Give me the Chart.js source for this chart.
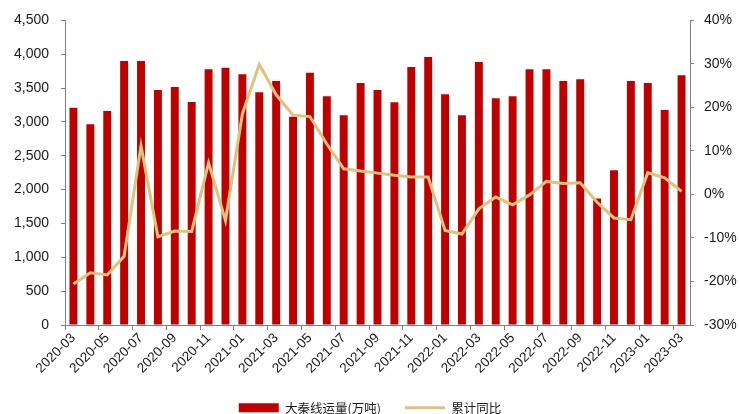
<!DOCTYPE html>
<html>
<head>
<meta charset="utf-8">
<script src="https://cdn.jsdelivr.net/npm/chart.js@4.4.1/dist/chart.umd.min.js"></script>
<style>
  html, body { margin: 0; padding: 0; background: #fff; }
  #wrap { width: 740px; height: 414px; }
</style>
</head>
<body>
<div id="wrap"><canvas id="chart" width="740" height="414"></canvas></div>
<script>
const months = [
  '2020-03', '2020-04', '2020-05', '2020-06', '2020-07', '2020-08', '2020-09', '2020-10',
  '2020-11', '2020-12', '2021-01', '2021-02', '2021-03', '2021-04', '2021-05', '2021-06',
  '2021-07', '2021-08', '2021-09', '2021-10', '2021-11', '2021-12', '2022-01', '2022-02',
  '2022-03', '2022-04', '2022-05', '2022-06', '2022-07', '2022-08', '2022-09', '2022-10',
  '2022-11', '2022-12', '2023-01', '2023-02', '2023-03'
];

// 大秦线运量(万吨)
const volume = [
  3210, 2965, 3160, 3900, 3900, 3470, 3515, 3295,
  3780, 3800, 3705, 3440, 3605, 3075, 3725, 3380,
  3100, 3575, 3470, 3290, 3810, 3960, 3410, 3100,
  3885, 3350, 3380, 3780, 3780, 3605, 3630, 1870,
  2285, 3605, 3575, 3175, 3690
];

// 累计同比 (%)
const yoy = [
  -20.6, -18.0, -18.5, -14.2, 11.2, -9.7, -8.4, -8.5,
  7.3, -6.0, 18.5, 29.9, 22.9, 18.2, 17.9, 11.6,
  5.9, 5.4, 4.9, 4.4, 4.0, 4.0, -8.3, -9.1,
  -3.3, -0.6, -2.4, -0.1, 3.0, 2.5, 2.7, -1.8,
  -5.4, -5.8, 5.0, 3.8, 0.7
];

const leftTicks = [0, 4500, 500];
const rightTicks = [-30, 40, 10];

const axisColor = '#808080';
const textColor = '#1a1a1a';
const tickFont = { family: 'Liberation Sans, Arial, sans-serif', size: 14 };

new Chart(document.getElementById('chart'), {
  data: {
    labels: months,
    datasets: [
      {
        type: 'line',
        label: '累计同比',
        data: yoy,
        yAxisID: 'y1',
        borderColor: '#dfc27c',
        backgroundColor: '#dfc27c',
        borderWidth: 3,
        pointRadius: 0,
        tension: 0,
        pointStyle: 'line',
        order: 0
      },
      {
        type: 'bar',
        label: '大秦线运量(万吨)',
        data: volume,
        yAxisID: 'y',
        backgroundColor: '#c00000',
        barPercentage: 0.47,
        categoryPercentage: 1,
        pointStyle: 'rect',
        order: 1
      }
    ]
  },
  options: {
    responsive: false,
    animation: false,
    layout: { padding: { top: 20, left: 0, right: 0, bottom: -10 } },
    plugins: {
      tooltip: { enabled: false },
      legend: {
        position: 'bottom',
        reverse: true,
        labels: {
          usePointStyle: true,
          pointStyleWidth: 40,
          boxHeight: 9,
          padding: 24,
          color: textColor,
          font: { family: 'Noto Sans CJK SC, sans-serif', size: 12.5 }
        }
      }
    },
    scales: {
      x: {
        offset: true,
        border: { color: axisColor, width: 1 },
        grid: {
          offset: true,
          drawOnChartArea: false,
          tickLength: 5,
          color: (c) => (c.index % 2 === 0 ? axisColor : 'rgba(0,0,0,0)')
        },
        ticks: {
          autoSkip: false,
          maxRotation: 45,
          minRotation: 45,
          color: textColor,
          font: { family: 'Liberation Sans, Arial, sans-serif', size: 13.5 },
          padding: 0,
          callback: function (v, i) { return i % 2 === 0 ? months[i] : ''; }
        },
        afterFit: (s) => { s.height = 52.5; }
      },
      y: {
        position: 'left',
        min: leftTicks[0],
        max: leftTicks[1],
        border: { color: axisColor, width: 1 },
        grid: { drawOnChartArea: false, tickLength: 4, color: axisColor },
        ticks: {
          stepSize: leftTicks[2],
          color: textColor,
          font: tickFont,
          padding: 12,
          callback: (v) => v.toLocaleString('en-US')
        },
        afterFit: (s) => { s.width = 65; }
      },
      y1: {
        position: 'right',
        min: rightTicks[0],
        max: rightTicks[1],
        border: { color: axisColor, width: 1 },
        grid: { drawOnChartArea: false, tickLength: 4, color: axisColor },
        ticks: {
          stepSize: rightTicks[2],
          color: textColor,
          font: tickFont,
          padding: 10,
          callback: (v) => v + '%'
        },
        afterFit: (s) => { s.width = 50; }
      }
    }
  }
});
</script>
</body>
</html>
